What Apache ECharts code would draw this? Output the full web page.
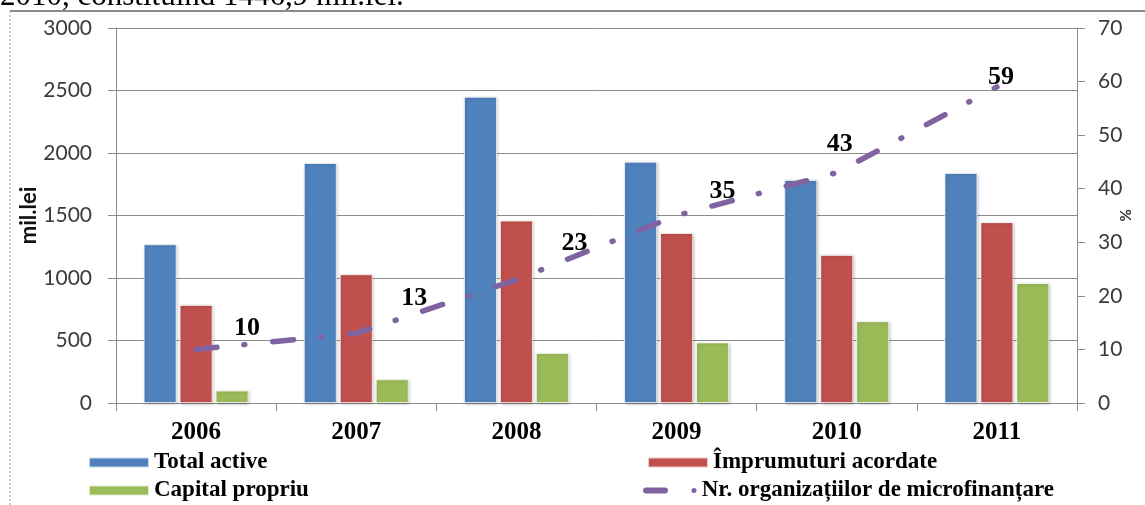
<!DOCTYPE html>
<html>
<head>
<meta charset="utf-8">
<script src="https://cdn.jsdelivr.net/npm/echarts@6/dist/echarts.min.js"></script>
<style>
  html, body { margin: 0; padding: 0; background: #fff; }
  #chart { width: 1145px; height: 505px; }
</style>
</head>
<body>
<div id="chart"></div>
<script>
// Microfinance organisations, 2006–2011
const years = ['2006', '2007', '2008', '2009', '2010', '2011'];
const totalActive = [1270, 1920, 2450, 1930, 1785, 1840];   // mil. lei
const loansGranted = [785, 1030, 1460, 1360, 1185, 1447];   // mil. lei
const ownCapital = [100, 190, 400, 485, 655, 960];          // mil. lei
const orgCount = [10, 13, 23, 35, 43, 59];                  // right axis

const leftAxisTicks = { min: 0, max: 3000, interval: 500 };
const rightAxisTicks = { min: 0, max: 70, interval: 10 };

const seriesNames = [
  'Total active',
  'Împrumuturi acordate',
  'Capital propriu',
  'Nr. organizațiilor de microfinanțare'
];

// where each count label sits relative to its point
const countLabelOffsets = [[51, -21], [58, -35], [58, -37], [46, -24], [3, -28], [4, -10]];

const serif = '"Liberation Serif", "Times New Roman", serif';
const sans = 'Lato, "Open Sans", sans-serif';
const gridGray = '#8c8c8c';

const barShadow = {
  borderColor: 'rgba(255,255,255,0.7)',
  borderWidth: 1,
  shadowColor: 'rgba(0,0,0,0.25)',
  shadowBlur: 3,
  shadowOffsetX: 1,
  shadowOffsetY: 1
};

const legendText = { fontFamily: serif, fontWeight: 'bold', fontSize: 23, color: '#000' };
const dashDotIcon = 'path://M3,0 L22,0 A3,3 0 0 1 22,6 L3,6 A3,3 0 0 1 3,0 Z M51,0.5 A2.5,2.5 0 1 1 51,5.5 A2.5,2.5 0 1 1 51,0.5 Z';

function legendAt(name, left, top, extra) {
  return Object.assign({
    data: [name],
    left: left,
    top: top,
    padding: 0,
    selectedMode: false,
    icon: 'rect',
    itemWidth: 60,
    itemHeight: 10,
    textStyle: legendText
  }, extra || {});
}

const plainNumber = v => String(v);

const chart = echarts.init(document.getElementById('chart'), null, { renderer: 'canvas' });

chart.setOption({
  animation: false,
  backgroundColor: '#fff',
  grid: { left: 116, right: 68, top: 28, bottom: 102, containLabel: false },
  graphic: [
    {
      type: 'text', left: 0, top: -19, silent: true,
      style: { text: '2010, constituind 1446,9 mil.lei.', font: '31px ' + serif, fill: '#000' }
    },
    {
      type: 'line', silent: true,
      shape: { x1: 10, y1: 11, x2: 1145, y2: 11 },
      style: { stroke: '#8a8a8a', lineWidth: 2 }
    },
    {
      type: 'line', silent: true,
      shape: { x1: 10, y1: 11, x2: 10, y2: 505 },
      style: { stroke: '#a0a0a0', lineWidth: 1, lineDash: [2, 2] }
    }
  ],
  legend: [
    legendAt(seriesNames[0], 88, 451),
    legendAt(seriesNames[2], 88, 479),
    legendAt(seriesNames[1], 647, 451),
    legendAt(seriesNames[3], 643, 479, {
      icon: dashDotIcon,
      itemWidth: 54,
      itemHeight: 6,
      itemStyle: { color: '#8064A2', borderWidth: 0, opacity: 1 }
    })
  ],
  xAxis: {
    type: 'category',
    data: years,
    axisLine: { show: true, lineStyle: { color: gridGray, width: 1 } },
    axisTick: { show: true, alignWithLabel: false, length: 8, lineStyle: { color: gridGray } },
    axisLabel: { margin: 17, fontFamily: serif, fontWeight: 'bold', fontSize: 25, color: '#000' },
    splitLine: { show: false }
  },
  yAxis: [
    {
      type: 'value',
      min: leftAxisTicks.min, max: leftAxisTicks.max, interval: leftAxisTicks.interval,
      name: 'mil.lei',
      nameLocation: 'middle',
      nameGap: 76,
      nameMoveOverlap: false,
      nameRotate: 90,
      nameTextStyle: { fontFamily: sans, fontWeight: 'bold', fontSize: 22, color: '#111' },
      axisLine: { show: true, lineStyle: { color: gridGray } },
      axisTick: { show: true, length: 8, lineStyle: { color: gridGray } },
      axisLabel: { margin: 24, fontFamily: sans, fontSize: 21, color: '#3a3a3a', formatter: plainNumber },
      splitLine: { show: true, lineStyle: { color: gridGray, width: 1 } }
    },
    {
      type: 'value',
      position: 'right',
      min: rightAxisTicks.min, max: rightAxisTicks.max, interval: rightAxisTicks.interval,
      name: '%',
      nameLocation: 'middle',
      nameGap: 40,
      nameMoveOverlap: false,
      nameRotate: -90,
      nameTextStyle: { fontFamily: sans, fontWeight: 'bold', fontSize: 15, color: '#333' },
      axisLine: { show: true, lineStyle: { color: gridGray } },
      axisTick: { show: true, length: 8, lineStyle: { color: gridGray } },
      axisLabel: { margin: 21, fontFamily: sans, fontSize: 21, color: '#3a3a3a', formatter: plainNumber },
      splitLine: { show: false }
    }
  ],
  series: [
    {
      name: seriesNames[0], type: 'bar', data: totalActive,
      barWidth: 33, barGap: '9%',
      itemStyle: Object.assign({ color: '#4F81BD' }, barShadow)
    },
    {
      name: seriesNames[1], type: 'bar', data: loansGranted,
      barWidth: 33, barGap: '9%',
      itemStyle: Object.assign({ color: '#C0504D' }, barShadow)
    },
    {
      name: seriesNames[2], type: 'bar', data: ownCapital,
      barWidth: 33, barGap: '9%',
      itemStyle: Object.assign({ color: '#9BBB59' }, barShadow)
    },
    {
      name: seriesNames[3], type: 'line', yAxisIndex: 1, z: 5,
      data: orgCount.map((v, i) => ({ value: v, label: { offset: countLabelOffsets[i] } })),
      symbol: 'circle',
      symbolSize: 0.1,
      showSymbol: true,
      itemStyle: { color: '#8064A2' },
      lineStyle: { color: '#8064A2', width: 5.5, type: [21, 27, 1, 28], cap: 'round' },
      label: {
        show: true,
        position: 'inside',
        fontFamily: serif, fontWeight: 'bold', fontSize: 26, color: '#000'
      }
    }
  ]
});
</script>
</body>
</html>
